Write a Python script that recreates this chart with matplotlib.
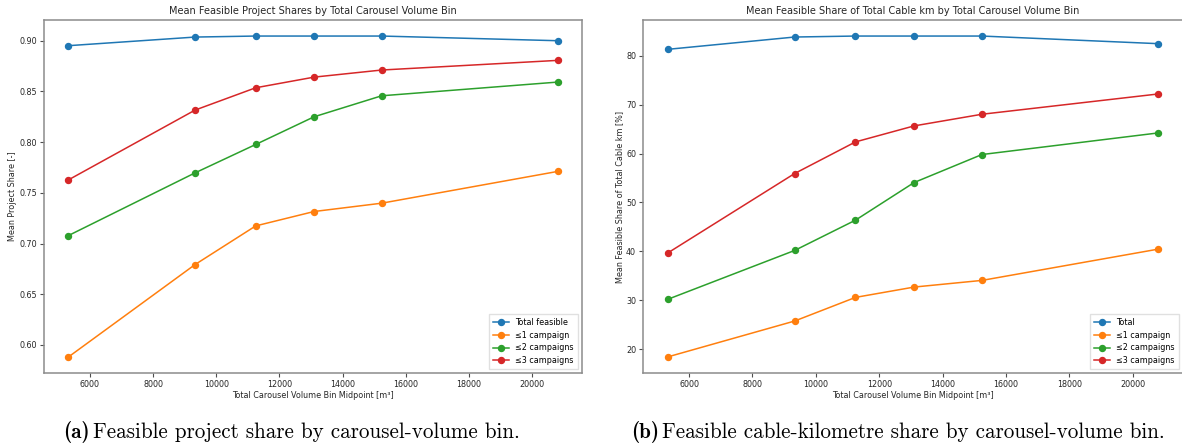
import matplotlib
matplotlib.use("Agg")
import matplotlib.pyplot as plt

plt.rcParams["font.family"] = ["DejaVu Sans"]
plt.rcParams["axes.edgecolor"] = "0.55"
plt.rcParams["axes.linewidth"] = 1.1
plt.rcParams["xtick.color"] = "0.3"
plt.rcParams["ytick.color"] = "0.3"
plt.rcParams["xtick.labelcolor"] = "0.15"
plt.rcParams["ytick.labelcolor"] = "0.15"

# Bin midpoints of total carousel volume [m3]
bin_mid = [5320, 9330, 11250, 13100, 15240, 20810]

# (a) mean feasible project share [-]
proj_total = [0.8951, 0.9036, 0.9046, 0.9046, 0.9046, 0.9000]
proj_c1 = [0.5882, 0.6793, 0.7174, 0.7316, 0.7398, 0.7711]
proj_c2 = [0.7079, 0.7697, 0.7977, 0.8250, 0.8457, 0.8592]
proj_c3 = [0.7628, 0.8316, 0.8536, 0.8641, 0.8711, 0.8806]

# (b) mean feasible share of total cable km [%]
km_total = [81.29, 83.81, 84.01, 84.01, 84.01, 82.45]
km_c1 = [18.44, 25.78, 30.61, 32.72, 34.08, 40.48]
km_c2 = [30.20, 40.20, 46.39, 54.08, 59.80, 64.22]
km_c3 = [39.66, 55.92, 62.38, 65.65, 68.03, 72.18]

labels_a = ["Total feasible", "≤1 campaign", "≤2 campaigns", "≤3 campaigns"]
labels_b = ["Total", "≤1 campaign", "≤2 campaigns", "≤3 campaigns"]
colors = ["#1f77b4", "#ff7f0e", "#2ca02c", "#d62728"]

W, H = 1182, 445
fig = plt.figure(figsize=(W / 100, H / 100), dpi=100)


def px_axes(x0, y0, x1, y1):
    # axes box given in pixel coords (top-left origin)
    return fig.add_axes([x0 / W, 1 - y1 / H, (x1 - x0) / W, (y1 - y0) / H])


ax_a = px_axes(44, 20, 582, 373)
ax_b = px_axes(643, 20, 1183, 373)

panels = [
    (ax_a, [proj_total, proj_c1, proj_c2, proj_c3], labels_a,
     "Mean Feasible Project Shares by Total Carousel Volume Bin",
     "Mean Project Share [-]"),
    (ax_b, [km_total, km_c1, km_c2, km_c3], labels_b,
     "Mean Feasible Share of Total Cable km by Total Carousel Volume Bin",
     "Mean Feasible Share of Total Cable km [%]"),
]

for ax, series, labels, title, ylabel in panels:
    for vals, lab, col in zip(series, labels, colors):
        ax.plot(bin_mid, vals, marker="o", color=col, label=lab,
                linewidth=1.1, markersize=4.3)
    ax.set_title(title, fontsize=7.05, pad=4, color="0.15")
    ax.set_xlabel("Total Carousel Volume Bin Midpoint [m³]", fontsize=5.8,
                  labelpad=1.5, color="0.15")
    ax.set_ylabel(ylabel, fontsize=5.8, labelpad=1.5, color="0.15")
    ax.tick_params(labelsize=5.8, length=3, width=0.8, pad=2)
    ax.set_xticks(range(6000, 20001, 2000))
    ax.legend(loc="lower right", fontsize=5.8, framealpha=0.8,
              handlelength=2.0, borderpad=0.5, labelspacing=0.45,
              edgecolor="0.85", fancybox=False)

# Captions under each panel: bold tag, then roman text
cap_y = 1 - 432 / H
captions = [
    (63, 93, "(a)", "Feasible project share by carousel-volume bin."),
    (631, 662, "(b)", "Feasible cable-kilometre share by carousel-volume bin."),
]
for x_tag, x_txt, tag, txt in captions:
    fig.text(x_tag / W, cap_y, tag, fontfamily="cmb10", fontsize=15.2,
             ha="left", va="center")
    fig.text(x_txt / W, cap_y, txt, fontfamily="cmr10", fontsize=15.2,
             ha="left", va="center")

plt.savefig("out.png", dpi=100)
